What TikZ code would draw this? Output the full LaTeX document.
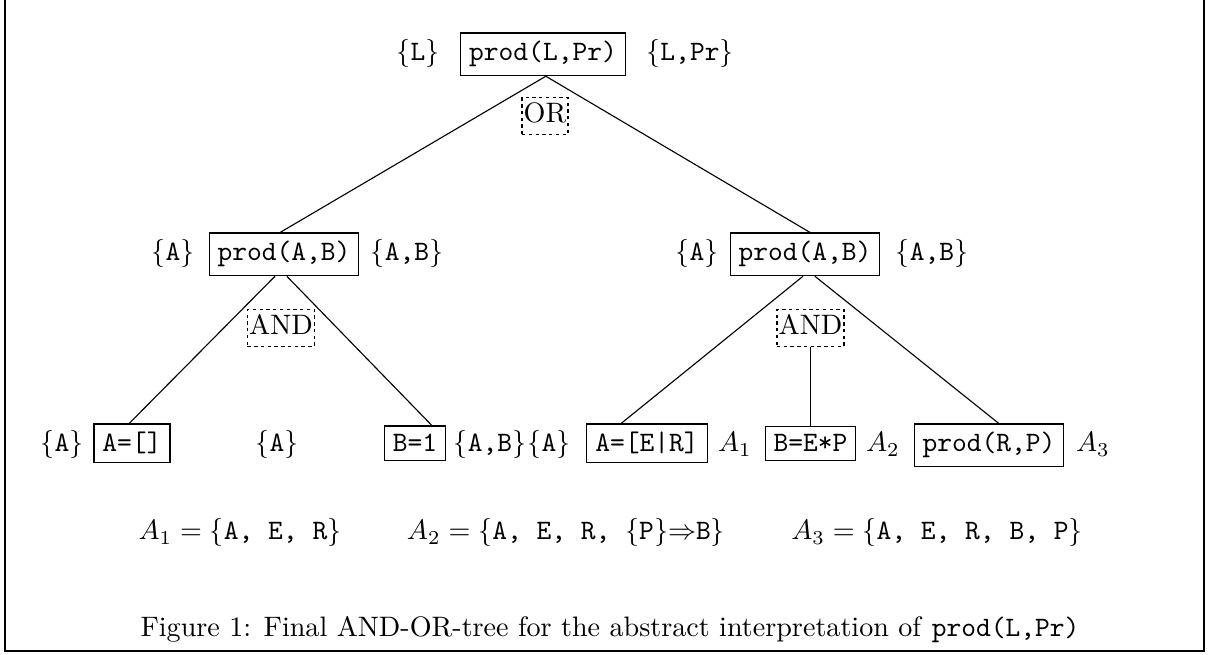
\documentclass[tikz,border=0pt]{standalone}
\usepackage{amsmath}
\usepackage{amssymb}
\usepackage{tikz}

\begin{document}
\begin{tikzpicture}[x=0.3555pt,y=-0.3555pt,
    goal/.style={draw,inner sep=3pt,font=\ttfamily,anchor=base},
    conn/.style={draw,dash pattern=on 1.2pt off 1.2pt,inner xsep=0.6pt,inner ysep=0.5pt,
      text height=8.4pt,text depth=3.6pt},
    lbl/.style={anchor=base}]
    \useasboundingbox (0,0) rectangle (1210,655);
    % frame
    \draw[line width=0.5pt] (5,-10) -- (5,651) -- (1204,651) -- (1204,-10);
    % root
    \node[goal] (top) at (543,61) {prod(L,Pr)};
    \node[lbl] (topin) at (418,61) {$\{$\texttt{L}$\}$};
    \node[lbl] (topout) at (690,61) {$\{$\texttt{L,Pr}$\}$};
    \node[conn] (orlbl) at (545,116) {OR};
    % second level
    \node[goal] (l) at (284,261) {prod(A,B)};
    \node[lbl] (lin) at (173,261) {$\{$\texttt{A}$\}$};
    \node[lbl] (lout) at (407,261) {$\{$\texttt{A,B}$\}$};
    \node[conn] (land) at (281,328) {AND};
    \node[goal] (r) at (805,261) {prod(A,B)};
    \node[lbl] (rin) at (697,261) {$\{$\texttt{A}$\}$};
    \node[lbl] (rout) at (932,261) {$\{$\texttt{A,B}$\}$};
    \node[conn] (rand) at (810.5,328) {AND};
    % leaves
    \node[goal] (ll) at (132,452) {A=[]};
    \node[lbl] (llin) at (62,452) {$\{$\texttt{A}$\}$};
    \node[lbl] (llout) at (277,452) {$\{$\texttt{A}$\}$};
    \node[goal] (lr) at (415,452) {B=1};
    \node[lbl] (lrout) at (490,452) {$\{$\texttt{A,B}$\}$};
    \node[lbl] (rlin) at (549,452) {$\{$\texttt{A}$\}$};
    \node[goal] (rl) at (647,452) {A=[E|R]};
    \node[lbl] (rlout) at (735,452) {$A_1$};
    \node[goal] (rm) at (810.5,452) {B=E*P};
    \node[lbl] (rmout) at (883,452) {$A_2$};
    \node[goal] (rr) at (989,452) {prod(R,P)};
    \node[lbl] (rrout) at (1093,452) {$A_3$};
    % edges
    \draw ([xshift=1pt]top.south) -- ([xshift=-1.4pt]l.north);
    \draw ([xshift=1pt]top.south) -- ([xshift=1.8pt]r.north);
    \draw ([xshift=-3.2pt]l.south) -- ([xshift=-1pt]ll.north);
    \draw ([xshift=1pt]l.south) -- ([xshift=6pt]lr.north);
    \draw ([xshift=-0.7pt]r.south) -- ([xshift=-9.2pt]rl.north);
    \draw (rand.south) -- (rm.north);
    \draw ([xshift=3.5pt]r.south) -- ([xshift=3.5pt]rr.north);
    % abstract sets
    \node[lbl] (aone) at (240,540) {$A_1 = \{$\texttt{A, E, R}$\}$};
    \node[lbl] (atwo) at (566,540) {$A_2 = \{$\texttt{A, E, R, }$\{$\texttt{P}$\}{\Rightarrow}$\texttt{B}$\}$};
    \node[lbl] (athree) at (937,540) {$A_3 = \{$\texttt{A, E, R, B, P}$\}$};
    % caption
    \node[lbl] (cap) at (610,637) {Figure 1: Final AND-OR-tree for the abstract interpretation of \texttt{prod(L,Pr)}};
\end{tikzpicture}
\end{document}
